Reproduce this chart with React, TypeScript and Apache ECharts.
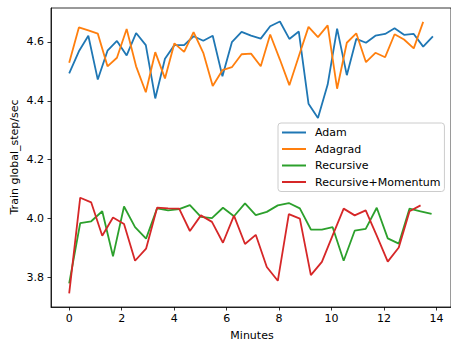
import React, { useEffect, useRef } from "react";
import * as echarts from "echarts";

const timesA = [0, 0.37, 0.73, 1.09, 1.46, 1.82, 2.19, 2.55, 2.92, 3.28, 3.65, 4.01, 4.38, 4.74, 5.11, 5.47, 5.84, 6.2, 6.57, 6.93, 7.3, 7.66, 8.03, 8.39, 8.75, 9.12, 9.48, 9.85, 10.21, 10.58, 10.94, 11.31, 11.67, 12.04, 12.4, 12.76, 13.13, 13.49, 13.86];
const timesR = [0, 0.42, 0.84, 1.26, 1.67, 2.09, 2.51, 2.93, 3.35, 3.77, 4.19, 4.6, 5.02, 5.44, 5.86, 6.28, 6.7, 7.11, 7.53, 7.95, 8.37, 8.79, 9.21, 9.63, 10.04, 10.46, 10.88, 11.3, 11.72, 12.14, 12.56, 12.97, 13.39, 13.81];

const adam = [4.493, 4.568, 4.621, 4.472, 4.57, 4.603, 4.554, 4.63, 4.589, 4.408, 4.543, 4.589, 4.589, 4.619, 4.604, 4.621, 4.483, 4.599, 4.634, 4.621, 4.611, 4.653, 4.669, 4.61, 4.635, 4.39, 4.342, 4.455, 4.645, 4.487, 4.61, 4.597, 4.621, 4.627, 4.646, 4.624, 4.627, 4.584, 4.619];
const adagrad = [4.529, 4.649, 4.639, 4.628, 4.517, 4.546, 4.644, 4.517, 4.429, 4.565, 4.476, 4.595, 4.566, 4.633, 4.563, 4.45, 4.504, 4.514, 4.558, 4.56, 4.517, 4.625, 4.54, 4.453, 4.551, 4.651, 4.616, 4.656, 4.441, 4.597, 4.629, 4.531, 4.563, 4.548, 4.626, 4.608, 4.578, 4.668];
const recursive = [3.78, 3.985, 3.991, 4.025, 3.872, 4.041, 3.971, 3.932, 4.035, 4.028, 4.032, 4.046, 4.006, 4.002, 4.037, 4.008, 4.052, 4.012, 4.023, 4.045, 4.053, 4.035, 3.963, 3.963, 3.971, 3.857, 3.959, 3.965, 4.037, 3.933, 3.915, 4.034, 4.025, 4.016];
const recursiveMomentum = [3.746, 4.071, 4.055, 3.942, 4.004, 3.982, 3.857, 3.898, 4.037, 4.035, 4.034, 3.958, 4.011, 3.989, 3.918, 4.01, 3.914, 3.945, 3.836, 3.789, 4.015, 4.0, 3.808, 3.853, 3.943, 4.034, 4.011, 4.028, 3.942, 3.854, 3.902, 4.025, 4.045];

const xTicks = [0, 2, 4, 6, 8, 10, 12, 14];
const yTicks = [3.8, 4.0, 4.2, 4.4, 4.6];
const seriesNames = ["Adam", "Adagrad", "Recursive", "Recursive+Momentum"];
const colors = ["#1f77b4", "#ff7f0e", "#2ca02c", "#d62728"];

const FONT = "DejaVu Sans";

export default function App() {
  const ref = useRef<HTMLDivElement>(null);
  useEffect(() => {
    if (!ref.current) return;
    const chart = echarts.init(ref.current, undefined, { renderer: "svg" });
    const pair = (ts: number[], vs: number[]) => vs.map((v, i) => [ts[i], v]);
    const seriesData = [pair(timesA, adam), pair(timesA, adagrad), pair(timesR, recursive), pair(timesR, recursiveMomentum)];
    chart.setOption({
      animation: false,
      backgroundColor: "#ffffff",
      textStyle: { fontFamily: FONT },
      grid: {
        left: 51,
        top: 8,
        width: 402,
        height: 299,
        show: true,
        borderColor: "#000",
        borderWidth: 0.8,
        backgroundColor: "transparent",
      },
      xAxis: {
        type: "value",
        min: -0.693,
        max: 14.55,
        splitLine: { show: false },
        axisLine: { show: true, onZero: false, lineStyle: { color: "#000", width: 0.8 } },
        axisTick: { show: true, customValues: xTicks, length: 3.5, lineStyle: { color: "#000", width: 0.8 } },
        axisLabel: { customValues: xTicks, margin: 6, color: "#000", fontSize: 11, fontFamily: FONT },
      },
      yAxis: {
        type: "value",
        min: 3.7,
        max: 4.715,
        splitLine: { show: false },
        axisLine: { show: true, onZero: false, lineStyle: { color: "#000", width: 0.8 } },
        axisTick: { show: true, customValues: yTicks, length: 3.5, lineStyle: { color: "#000", width: 0.8 } },
        axisLabel: {
          customValues: yTicks,
          margin: 7,
          color: "#000",
          fontSize: 11,
          fontFamily: FONT,
          formatter: (v: number) => v.toFixed(1),
        },
      },
      legend: {
        orient: "vertical",
        left: 278,
        top: 123,
        data: seriesNames,
        backgroundColor: "rgba(255,255,255,0.8)",
        borderColor: "#cccccc",
        borderWidth: 1,
        borderRadius: 3,
        padding: [3, 4, 3, 4],
        itemGap: 3.5,
        itemWidth: 24,
        itemHeight: 2,
        icon: "rect",
        textStyle: { fontSize: 11, fontFamily: FONT, color: "#000", lineHeight: 13, padding: [0, 0, 0, 4] },
      },
      graphic: [
        {
          type: "text",
          x: 14,
          y: 157,
          rotation: Math.PI / 2,
          style: { text: "Train global_step/sec", fontSize: 11, fontFamily: FONT, fill: "#000", align: "center", verticalAlign: "middle" },
        },
        {
          type: "text",
          x: 252,
          y: 335,
          style: { text: "Minutes", fontSize: 11, fontFamily: FONT, fill: "#000", align: "center", verticalAlign: "middle" },
        },
      ],
      series: seriesNames.map((name, i) => ({
        name,
        type: "line",
        data: seriesData[i],
        showSymbol: false,
        symbol: "none",
        color: colors[i],
        lineStyle: { color: colors[i], width: 1.8 },
      })),
    });
    return () => chart.dispose();
  }, []);
  return <div ref={ref} style={{ position: "fixed", left: 0, top: 0, width: 451, height: 343 }} />;
}
